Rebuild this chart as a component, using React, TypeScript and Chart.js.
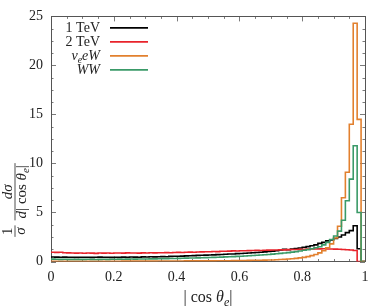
import { useEffect, useRef } from 'react';
import { Chart, registerables } from 'chart.js';
Chart.register(...registerables);

const BIN_WIDTH = 0.0125;
const X_TICKS = [0, 0.2, 0.4, 0.6, 0.8, 1];
const Y_TICKS = [0, 5, 10, 15, 20, 25];
const SERIES_NAMES = ['1 TeV', '2 TeV', 'νeeW', 'WW'];

const TEV1 = [
  0.46, 0.45, 0.44, 0.45, 0.43, 0.44, 0.42, 0.44,
  0.43, 0.44, 0.42, 0.43, 0.45, 0.43, 0.44, 0.42,
  0.44, 0.43, 0.45, 0.44, 0.46, 0.45, 0.44, 0.47,
  0.46, 0.48, 0.47, 0.49, 0.50, 0.49, 0.52, 0.53,
  0.54, 0.55, 0.57, 0.58, 0.60, 0.62, 0.63, 0.65,
  0.67, 0.68, 0.70, 0.72, 0.74, 0.76, 0.77, 0.80,
  0.82, 0.84, 0.86, 0.89, 0.92, 0.95, 0.98, 1.02,
  1.06, 1.10, 1.18, 1.24, 1.20, 1.26, 1.32, 1.38,
  1.45, 1.52, 1.60, 1.70, 1.85, 1.95, 2.10, 2.20,
  2.35, 2.50, 2.70, 2.95, 3.15, 3.65, 1.30, 0,
];
const TEV2 = [
  0.95, 0.93, 0.94, 0.90, 0.88, 0.86, 0.85, 0.87,
  0.84, 0.86, 0.85, 0.83, 0.86, 0.85, 0.87, 0.84,
  0.86, 0.87, 0.85, 0.88, 0.86, 0.87, 0.85, 0.88,
  0.87, 0.89, 0.88, 0.90, 0.89, 0.91, 0.90, 0.92,
  0.93, 0.92, 0.94, 0.96, 0.95, 0.97, 0.98, 0.99,
  1.00, 1.02, 1.01, 1.04, 1.05, 1.06, 1.08, 1.07,
  1.09, 1.10, 1.11, 1.12, 1.13, 1.12, 1.15, 1.16,
  1.17, 1.18, 1.20, 1.19, 1.21, 1.22, 1.23, 1.24,
  1.25, 1.26, 1.27, 1.28, 1.29, 1.30, 1.28, 1.27,
  1.26, 1.25, 1.22, 1.20, 1.18, 1.12, 0, 0,
];
const NUEEW = [
  0.02, 0.02, 0.02, 0.02, 0.02, 0.03, 0.02, 0.03,
  0.03, 0.03, 0.03, 0.03, 0.03, 0.03, 0.03, 0.03,
  0.03, 0.03, 0.04, 0.04, 0.04, 0.04, 0.04, 0.04,
  0.04, 0.04, 0.04, 0.05, 0.05, 0.05, 0.05, 0.05,
  0.05, 0.05, 0.06, 0.06, 0.06, 0.06, 0.06, 0.06,
  0.06, 0.06, 0.07, 0.07, 0.08, 0.08, 0.09, 0.09,
  0.10, 0.10, 0.11, 0.12, 0.12, 0.13, 0.14, 0.15,
  0.16, 0.18, 0.20, 0.22, 0.25, 0.28, 0.32, 0.37,
  0.42, 0.50, 0.60, 0.72, 0.88, 1.10, 1.40, 1.80,
  2.40, 3.60, 6.50, 9.10, 14.0, 24.3, 14.5, 0,
];
const WW = [
  0.24, 0.23, 0.22, 0.23, 0.22, 0.22, 0.21, 0.22,
  0.22, 0.23, 0.22, 0.21, 0.22, 0.23, 0.22, 0.23,
  0.23, 0.24, 0.23, 0.24, 0.25, 0.24, 0.25, 0.26,
  0.26, 0.27, 0.27, 0.28, 0.29, 0.29, 0.30, 0.31,
  0.32, 0.33, 0.34, 0.35, 0.36, 0.37, 0.38, 0.40,
  0.41, 0.42, 0.44, 0.45, 0.47, 0.48, 0.50, 0.52,
  0.54, 0.56, 0.58, 0.61, 0.63, 0.66, 0.69, 0.72,
  0.75, 0.79, 0.83, 0.87, 0.91, 0.96, 1.01, 1.07,
  1.14, 1.21, 1.30, 1.40, 1.50, 1.70, 1.95, 2.25,
  2.60, 3.10, 4.20, 6.20, 8.40, 11.8, 5.0, 0,
];

const COLORS = ['#000000', '#e8232b', '#e2802e', '#3a9a68'];
const FONT = '"Liberation Serif", "DejaVu Serif", serif';

type Seg = { t: string; it?: boolean; sub?: boolean };

function segFont(s: Seg, size: number) {
  return `${s.it ? 'italic ' : ''}${s.sub ? Math.round(size * 0.72) : size}px ${FONT}`;
}
function richWidth(ctx: CanvasRenderingContext2D, segs: Seg[], size: number) {
  let w = 0;
  for (const s of segs) { ctx.font = segFont(s, size); w += ctx.measureText(s.t).width; }
  return w;
}
function drawRich(ctx: CanvasRenderingContext2D, segs: Seg[], x: number, y: number, size: number, align: 'left' | 'right' | 'center') {
  const w = richWidth(ctx, segs, size);
  let cx = align === 'left' ? x : align === 'right' ? x - w : x - w / 2;
  ctx.textAlign = 'left';
  ctx.textBaseline = 'alphabetic';
  for (const s of segs) {
    ctx.font = segFont(s, size);
    ctx.fillText(s.t, cx, s.sub ? y + size * 0.22 : y);
    cx += ctx.measureText(s.t).width;
  }
}

const LEGEND_SEGS: Seg[][] = [
  [{ t: SERIES_NAMES[0] }],
  [{ t: SERIES_NAMES[1] }],
  [{ t: 'ν', it: true }, { t: 'e', it: true, sub: true }, { t: 'eW', it: true }],
  [{ t: 'WW', it: true }],
];

function toPoints(vals: number[]) {
  const pts = vals.map((v, i) => ({ x: i * BIN_WIDTH, y: v }));
  pts.push({ x: vals.length * BIN_WIDTH, y: vals[vals.length - 1] });
  return pts;
}

const framePlugin = {
  id: 'frame',
  beforeDatasetsDraw(chart: any) {
    const { ctx, chartArea: a, scales } = chart;
    const xs = scales.x, ys = scales.y;
    ctx.save();
    ctx.strokeStyle = '#7a7a7a';
    ctx.lineWidth = 1;
    const xStep = (X_TICKS[1] - X_TICKS[0]) / 4;
    const nx = Math.round((X_TICKS[X_TICKS.length - 1] - X_TICKS[0]) / xStep);
    ctx.beginPath();
    for (let i = 0; i <= nx; i++) {
      const px = Math.round(xs.getPixelForValue(X_TICKS[0] + i * xStep)) + 0.5;
      const len = i % 4 === 0 ? 5 : 2.5;
      ctx.moveTo(px, a.bottom); ctx.lineTo(px, a.bottom - len);
      ctx.moveTo(px, a.top); ctx.lineTo(px, a.top + len);
    }
    const yStep = (Y_TICKS[1] - Y_TICKS[0]) / 4;
    const ny = Math.round((Y_TICKS[Y_TICKS.length - 1] - Y_TICKS[0]) / yStep);
    for (let i = 0; i <= ny; i++) {
      const py = Math.round(ys.getPixelForValue(Y_TICKS[0] + i * yStep)) + 0.5;
      const len = i % 4 === 0 ? 5 : 2.5;
      ctx.moveTo(a.left, py); ctx.lineTo(a.left + len, py);
      ctx.moveTo(a.right, py); ctx.lineTo(a.right - len, py);
    }
    ctx.stroke();
    ctx.strokeStyle = '#555555';
    ctx.strokeRect(Math.round(a.left) + 0.5, Math.round(a.top) + 0.5, Math.round(a.right - a.left), Math.round(a.bottom - a.top));
    ctx.restore();
  },
  afterDraw(chart: any) {
    const { ctx, chartArea: a } = chart;
    ctx.save();
    ctx.fillStyle = '#222';
    // legend
    const lx = a.left + 49, ly = a.top + 11, dy = 14;
    LEGEND_SEGS.forEach((segs, i) => {
      const y = ly + i * dy;
      drawRich(ctx, segs, lx, y + 4.5, 14, 'right');
      ctx.strokeStyle = COLORS[i];
      ctx.lineWidth = 1.8;
      ctx.beginPath();
      ctx.moveTo(lx + 10, y + 0.5); ctx.lineTo(lx + 48, y + 0.5);
      ctx.stroke();
    });
    // x title
    ctx.fillStyle = '#222';
    const xt: Seg[] = [{ t: '| cos ' }, { t: 'θ', it: true }, { t: 'e', it: true, sub: true }, { t: '|' }];
    drawRich(ctx, xt, (a.left + a.right) / 2, 302, 16, 'center');
    // y title (rotated fraction)
    ctx.translate(15, 200);
    ctx.rotate(-Math.PI / 2);
    const fs = 15;
    const num1: Seg[] = [{ t: '1' }];
    const den1: Seg[] = [{ t: 'σ', it: true }];
    const num2: Seg[] = [{ t: 'dσ', it: true }];
    const den2: Seg[] = [{ t: 'd', it: true }, { t: '| cos ' }, { t: 'θ', it: true }, { t: 'e', it: true, sub: true }, { t: '|' }];
    const wA = Math.max(richWidth(ctx, num1, fs), richWidth(ctx, den1, fs)) + 4;
    const wB = Math.max(richWidth(ctx, num2, fs), richWidth(ctx, den2, fs)) + 4;
    const gap = 5;
    const total = wA + gap + wB;
    const x0 = -total / 2;
    ctx.strokeStyle = '#222';
    ctx.lineWidth = 0.8;
    ctx.beginPath();
    ctx.moveTo(x0, 0); ctx.lineTo(x0 + wA, 0);
    ctx.moveTo(x0 + wA + gap, 0); ctx.lineTo(x0 + total, 0);
    ctx.stroke();
    drawRich(ctx, num1, x0 + wA / 2, -3, fs, 'center');
    drawRich(ctx, den1, x0 + wA / 2, 10, fs, 'center');
    drawRich(ctx, num2, x0 + wA + gap + wB / 2, -3, fs, 'center');
    drawRich(ctx, den2, x0 + wA + gap + wB / 2, 11, fs, 'center');
    ctx.restore();
  },
};

export default function App() {
  const ref = useRef<HTMLCanvasElement | null>(null);
  useEffect(() => {
    document.body.style.margin = '0';
    const canvas = ref.current!;
    const series = [TEV1, TEV2, NUEEW, WW];
    const chart = new Chart(canvas, {
      type: 'line',
      data: {
        datasets: series.map((vals, i) => ({
          label: SERIES_NAMES[i],
          data: toPoints(vals),
          borderColor: COLORS[i],
          backgroundColor: COLORS[i],
          borderWidth: 1.6,
          pointRadius: 0,
          stepped: 'before' as const,
          fill: false,
          order: 4 - i,
        })),
      },
      options: {
        animation: false,
        responsive: false,
        maintainAspectRatio: false,
        events: [],
        layout: { padding: { top: 14, right: 25, left: 0, bottom: 0 } },
        plugins: { legend: { display: false }, tooltip: { enabled: false } },
        scales: {
          x: {
            type: 'linear',
            min: X_TICKS[0],
            max: X_TICKS[X_TICKS.length - 1],
            afterBuildTicks: (s: any) => { s.ticks = X_TICKS.map((v) => ({ value: v })); },
            afterFit: (s: any) => { s.height = 45.5; },
            grid: { display: false, drawTicks: false },
            border: { display: false },
            ticks: {
              padding: 7,
              color: '#222',
              font: { family: FONT, size: 14 },
              maxRotation: 0,
              callback: (v: any) => String(Math.round(Number(v) * 10) / 10),
            },
          },
          y: {
            type: 'linear',
            min: Y_TICKS[0],
            max: Y_TICKS[Y_TICKS.length - 1],
            afterBuildTicks: (s: any) => { s.ticks = Y_TICKS.map((v) => ({ value: v })); },
            afterFit: (s: any) => { s.width = 51; },
            grid: { display: false, drawTicks: false },
            border: { display: false },
            ticks: {
              padding: 8,
              color: '#222',
              font: { family: FONT, size: 14 },
            },
          },
        },
      },
      plugins: [framePlugin],
    });
    return () => chart.destroy();
  }, []);
  return (
    <div style={{ position: 'absolute', left: 0, top: 0, width: 390, height: 307, background: '#fff' }}>
      <canvas ref={ref} width={390} height={307} style={{ width: 390, height: 307, display: 'block' }} />
    </div>
  );
}
